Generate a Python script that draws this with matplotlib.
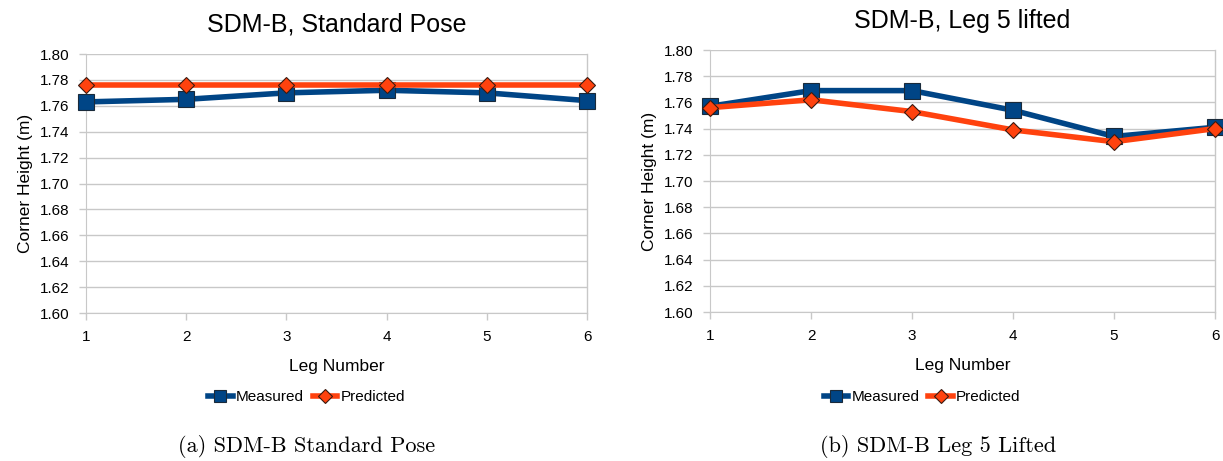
import matplotlib
matplotlib.use("Agg")
import matplotlib.pyplot as plt

legs = [1, 2, 3, 4, 5, 6]
yticks = [1.60, 1.62, 1.64, 1.66, 1.68, 1.70, 1.72, 1.74, 1.76, 1.78, 1.80]

std_measured = [1.763, 1.765, 1.770, 1.772, 1.770, 1.764]
std_predicted = [1.776, 1.776, 1.776, 1.776, 1.776, 1.776]

lift_measured = [1.757, 1.769, 1.769, 1.754, 1.734, 1.741]
lift_predicted = [1.756, 1.762, 1.753, 1.739, 1.730, 1.740]

titles = ["SDM-B, Standard Pose", "SDM-B, Leg 5 lifted"]
captions = ["(a) SDM-B Standard Pose", "(b) SDM-B Leg 5 Lifted"]

BLUE = "#004586"
RED = "#ff420e"
GRID = "#c8c8c8"
SANS = ["Liberation Sans", "DejaVu Sans"]
SERIF = ["cmr10", "DejaVu Serif"]

W, H = 1223, 461
fig = plt.figure(figsize=(W / 100, H / 100), dpi=100)

boxes = [(86, 587, 54, 313), (710, 1215, 50, 312)]
data = [(std_measured, std_predicted), (lift_measured, lift_predicted)]
caption_x = [307, 938]
legend_x = [0.44, 0.42]

for i, ((x0, x1, y0, y1), (meas, pred)) in enumerate(zip(boxes, data)):
    ax = fig.add_axes([x0 / W, 1 - y1 / H, (x1 - x0) / W, (y1 - y0) / H])
    ax.plot(legs, meas, color=BLUE, lw=4, marker="s", ms=11,
            mfc=BLUE, mec="#1a2a3a", mew=0.8, label="Measured", zorder=3)
    ax.plot(legs, pred, color=RED, lw=4, marker="D", ms=8,
            mfc=RED, mec="#3a1a10", mew=0.8, label="Predicted", zorder=4)
    ax.set_xlim(1, 6)
    ax.set_ylim(1.60, 1.80)
    ax.set_xticks(legs)
    ax.set_yticks(yticks)
    ax.set_yticklabels([f"{v:.2f}" for v in yticks], family=SANS, fontsize=11)
    ax.set_xticklabels([str(v) for v in legs], family=SANS, fontsize=11)
    ax.grid(axis="y", color=GRID, lw=1)
    ax.set_axisbelow(True)
    for s in ["top", "right"]:
        ax.spines[s].set_visible(False)
    ax.spines["left"].set_color(GRID)
    ax.spines["bottom"].set_color(GRID)
    ax.axvline(6, color=GRID, lw=1, zorder=0)
    ax.tick_params(axis="both", color=GRID, length=5, width=1, direction="out", pad=7)
    for ln in ax.lines:
        ln.set_clip_on(False)
    ax.set_xlabel("Leg Number", family=SANS, fontsize=12.5, labelpad=11)
    ax.set_ylabel("Corner Height (m)", family=SANS, fontsize=12.5, labelpad=5)
    ax.set_title(titles[i], family=SANS, fontsize=18, pad=16)
    ax.legend(loc="upper center", bbox_to_anchor=(legend_x[i], -0.245),
              ncol=2, frameon=False, prop={"family": SANS, "size": 11},
              handlelength=1.6, handletextpad=0.2, columnspacing=0.6,
              markerscale=0.85)
    fig.text(caption_x[i] / W, 1 - 446 / H, captions[i],
             family=SERIF, fontsize=16, ha="center", va="center")

fig.savefig("out.png", dpi=100)
